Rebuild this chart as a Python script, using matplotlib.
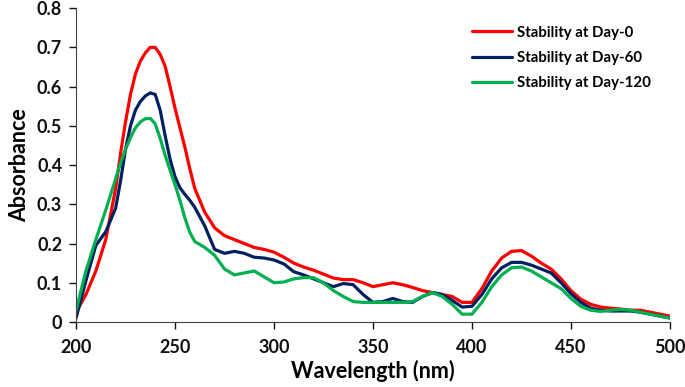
import numpy as np
import matplotlib.pyplot as plt
from matplotlib.ticker import FuncFormatter

plt.rcParams['font.family'] = ['Lato', 'DejaVu Sans']
plt.rcParams['font.weight'] = 'bold'

# wavelength (nm) and absorbance
# (finer steps around the main peak)
wavelength = ([200, 205, 210, 215, 220]
              + [222.5, 225, 227.5, 230, 232.5, 235, 237.5, 240, 242.5, 245,
                 247.5, 250, 252.5, 255, 257.5, 260]
              + list(range(265, 501, 5)))

day0 = [0.025, 0.07, 0.13, 0.21, 0.34,
        0.43, 0.51, 0.58, 0.632, 0.665, 0.686, 0.70, 0.70, 0.682, 0.652,
        0.60, 0.545, 0.495, 0.445, 0.39, 0.34,
        0.28, 0.24, 0.22, 0.21, 0.20, 0.19, 0.185,
        0.178, 0.165, 0.15, 0.14, 0.132, 0.122, 0.112, 0.108, 0.108, 0.10,
        0.09, 0.095, 0.10, 0.095, 0.088, 0.08, 0.075, 0.07, 0.065, 0.05,
        0.05, 0.085, 0.13, 0.163, 0.18, 0.182, 0.168, 0.15, 0.135, 0.11,
        0.08, 0.058, 0.045, 0.038, 0.035, 0.033, 0.03, 0.03, 0.025, 0.02,
        0.015]

day60 = [0.01, 0.105, 0.195, 0.23, 0.29,
         0.36, 0.44, 0.50, 0.54, 0.562, 0.576, 0.584, 0.58, 0.54, 0.475,
         0.415, 0.37, 0.342, 0.325, 0.31, 0.292,
         0.245, 0.185, 0.175, 0.18, 0.175, 0.165, 0.163,
         0.158, 0.148, 0.128, 0.12, 0.11, 0.10, 0.09, 0.098, 0.095, 0.07,
         0.05, 0.052, 0.06, 0.052, 0.05, 0.065, 0.075, 0.07, 0.055, 0.038,
         0.04, 0.07, 0.11, 0.138, 0.152, 0.152, 0.145, 0.135, 0.125, 0.10,
         0.072, 0.05, 0.035, 0.03, 0.028, 0.028, 0.028, 0.025, 0.02, 0.015,
         0.01]

day120 = [0.03, 0.13, 0.21, 0.285, 0.365,
          0.405, 0.44, 0.47, 0.495, 0.51, 0.518, 0.519, 0.505, 0.468, 0.425,
          0.387, 0.35, 0.31, 0.265, 0.228, 0.205,
          0.19, 0.17, 0.135, 0.12, 0.125, 0.13, 0.115,
          0.10, 0.102, 0.11, 0.113, 0.113, 0.10, 0.08, 0.065, 0.052, 0.05,
          0.05, 0.05, 0.05, 0.05, 0.052, 0.065, 0.075, 0.065, 0.045, 0.02,
          0.02, 0.05, 0.09, 0.12, 0.138, 0.14, 0.13, 0.115, 0.10, 0.085,
          0.06, 0.04, 0.03, 0.027, 0.03, 0.032, 0.03, 0.025, 0.02, 0.015,
          0.01]

labels = ["Stability at Day-0", "Stability at Day-60", "Stability at Day-120"]
colors = ["#FF0000", "#002060", "#00B050"]

fig = plt.figure(figsize=(6.85, 3.87), dpi=100)
ax = fig.add_axes([0.111, 0.168, 0.867, 0.811])

for series, lab, col in zip([day0, day60, day120], labels, colors):
    ax.plot(wavelength, series, color=col, lw=2.3, label=lab,
            solid_joinstyle="round", solid_capstyle="round")

ax.set_xlim(200, 500)
ax.set_ylim(0, 0.8)
ax.set_xticks(np.arange(200, 501, 50))
ax.set_yticks(np.arange(0, 0.81, 0.1))
ax.yaxis.set_major_formatter(FuncFormatter(lambda v, p: f"{v:g}"))
ax.tick_params(direction="out", length=5, width=1, labelsize=13, colors="#111111")
ax.tick_params(axis="x", pad=7)
ax.tick_params(axis="y", pad=5)
for s in ["top", "right"]:
    ax.spines[s].set_visible(False)
for s in ["left", "bottom"]:
    ax.spines[s].set_color("#444444")

ax.set_xlabel("Wavelength (nm)", fontsize=15.5, fontweight="bold", labelpad=3)
ax.set_ylabel("Absorbance", fontsize=15.5, fontweight="bold", labelpad=5)

fig.legend(loc="upper left", bbox_to_anchor=(0.689, 0.934), frameon=False,
           borderpad=0, borderaxespad=0, fontsize=10.8, handlelength=2.7,
           handletextpad=0.3, labelspacing=0.75)

fig.savefig("out.png", dpi=100)
